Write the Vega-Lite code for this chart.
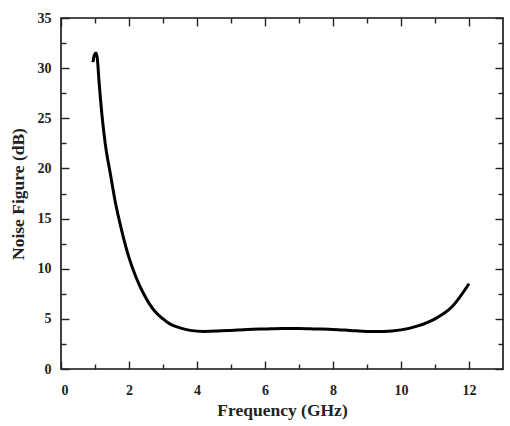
{
  "$schema": "https://vega.github.io/schema/vega-lite/v6.json",
  "autosize": {"type": "none"},
  "padding": {"left": 61, "top": 18, "right": 7, "bottom": 57},
  "width": 442,
  "height": 351,
  "background": "white",
  "config": {
    "view": {"stroke": "#111", "strokeWidth": 1.6},
    "axis": {
      "labelFont": "Liberation Serif",
      "titleFont": "Liberation Serif",
      "labelFontWeight": "bold",
      "titleFontWeight": "bold",
      "labelFontSize": 14,
      "titleFontSize": 17.5,
      "labelColor": "#222",
      "titleColor": "#222",
      "tickColor": "#222",
      "tickWidth": 1.4,
      "grid": false,
      "domain": false
    }
  },
  "data": {
    "values": [
      {"f": 0.94, "nf": 30.6, "o": 1},
      {"f": 0.98, "nf": 31.3, "o": 2},
      {"f": 1.03, "nf": 31.5, "o": 3},
      {"f": 1.07, "nf": 30.9, "o": 4},
      {"f": 1.12, "nf": 28.6, "o": 5},
      {"f": 1.2, "nf": 25.5, "o": 6},
      {"f": 1.3, "nf": 22.5, "o": 7},
      {"f": 1.45, "nf": 19.5, "o": 8},
      {"f": 1.6, "nf": 16.6, "o": 9},
      {"f": 1.8, "nf": 13.6, "o": 10},
      {"f": 2.0, "nf": 11.1, "o": 11},
      {"f": 2.2, "nf": 9.2, "o": 12},
      {"f": 2.4, "nf": 7.7, "o": 13},
      {"f": 2.6, "nf": 6.5, "o": 14},
      {"f": 2.8, "nf": 5.6, "o": 15},
      {"f": 3.0, "nf": 5.0, "o": 16},
      {"f": 3.2, "nf": 4.5, "o": 17},
      {"f": 3.5, "nf": 4.1, "o": 18},
      {"f": 3.8, "nf": 3.85, "o": 19},
      {"f": 4.2, "nf": 3.75, "o": 20},
      {"f": 4.6, "nf": 3.78, "o": 21},
      {"f": 5.0, "nf": 3.85, "o": 22},
      {"f": 5.5, "nf": 3.95, "o": 23},
      {"f": 6.0, "nf": 4.0, "o": 24},
      {"f": 6.5, "nf": 4.05, "o": 25},
      {"f": 7.0, "nf": 4.05, "o": 26},
      {"f": 7.5, "nf": 4.0, "o": 27},
      {"f": 8.0, "nf": 3.95, "o": 28},
      {"f": 8.5, "nf": 3.85, "o": 29},
      {"f": 9.0, "nf": 3.75, "o": 30},
      {"f": 9.5, "nf": 3.75, "o": 31},
      {"f": 10.0, "nf": 3.9, "o": 32},
      {"f": 10.5, "nf": 4.3, "o": 33},
      {"f": 11.0, "nf": 5.0, "o": 34},
      {"f": 11.5, "nf": 6.2, "o": 35},
      {"f": 12.0, "nf": 8.5, "o": 36}
    ]
  },
  "layer": [
    {
      "mark": {"type": "line", "color": "#000", "strokeWidth": 3, "interpolate": "monotone"},
      "encoding": {
        "x": {
          "field": "f", "type": "quantitative",
          "scale": {"domain": [0, 13], "nice": false},
          "axis": {
            "orient": "bottom",
            "title": "Frequency (GHz)",
            "values": [0,1,2,3,4,5,6,7,8,9,10,11,12],
            "labelExpr": "datum.value % 2 === 0 ? datum.label : ''",
            "tickSize": {"condition": {"test": "datum.value % 2 === 0", "value": -8}, "value": -5},
            "labelPadding": 22,
            "titlePadding": 4
          }
        },
        "y": {
          "field": "nf", "type": "quantitative",
          "scale": {"domain": [0, 35], "nice": false},
          "axis": {
            "orient": "left",
            "title": "Noise Figure (dB)",
            "values": [0,2.5,5,7.5,10,12.5,15,17.5,20,22.5,25,27.5,30,32.5,35],
            "labelExpr": "datum.value % 5 === 0 ? datum.label : ''",
            "tickSize": {"condition": {"test": "datum.value % 5 === 0", "value": -8}, "value": -5},
            "labelPadding": 18,
            "titlePadding": 10
          }
        },
        "order": {"field": "o", "type": "quantitative"}
      }
    },
    {
      "mark": {"type": "line", "opacity": 0},
      "encoding": {
        "x": {
          "field": "f", "type": "quantitative",
          "axis": {
            "orient": "top",
            "title": null,
            "labels": false,
            "values": [0,1,2,3,4,5,6,7,8,9,10,11,12],
            "tickSize": {"condition": {"test": "datum.value % 2 === 0", "value": -8}, "value": -5}
          }
        },
        "y": {
          "field": "nf", "type": "quantitative",
          "axis": {
            "orient": "right",
            "title": null,
            "labels": false,
            "values": [0,2.5,5,7.5,10,12.5,15,17.5,20,22.5,25,27.5,30,32.5,35],
            "tickSize": {"condition": {"test": "datum.value % 5 === 0", "value": -8}, "value": -5}
          }
        },
        "order": {"field": "o", "type": "quantitative"}
      }
    }
  ],
  "resolve": {"axis": {"x": "independent", "y": "independent"}}
}
